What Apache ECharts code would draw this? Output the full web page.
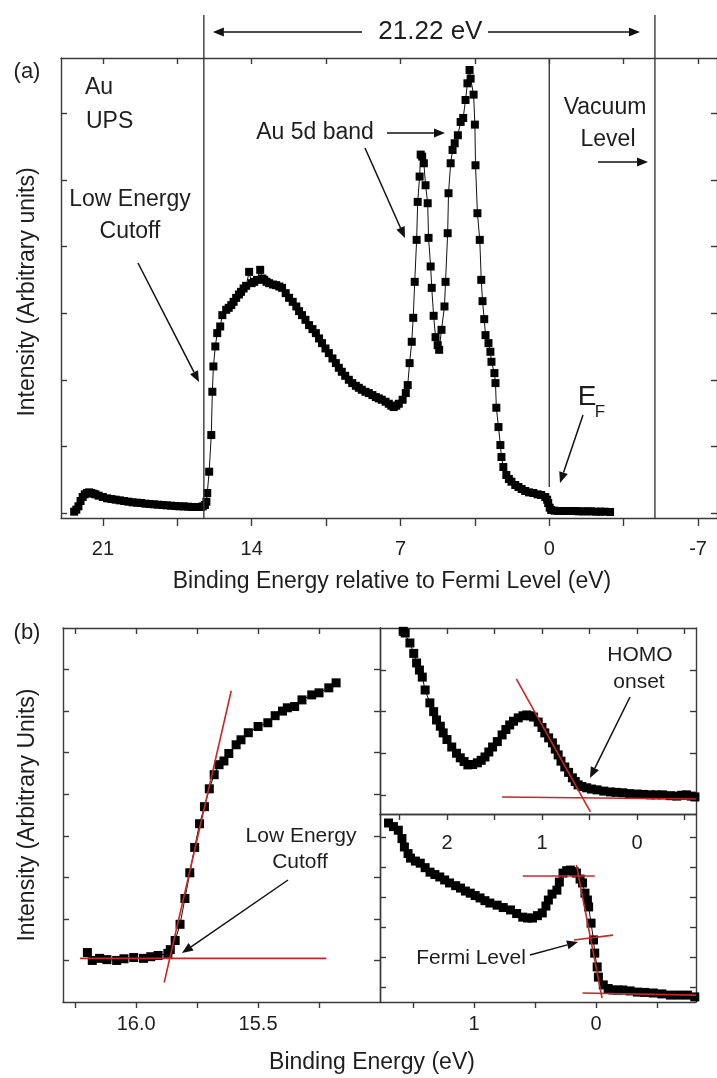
<!DOCTYPE html>
<html>
<head>
<meta charset="utf-8">
<script src="https://cdn.jsdelivr.net/npm/echarts@6/dist/echarts.min.js"></script>
<style>
  html, body { margin: 0; padding: 0; background: #fff; }
  #chart { width: 717px; height: 1078px; }
</style>
</head>
<body>
<div id="chart"></div>
<script>
// ---------- (a) Au UPS survey: [binding energy (eV), intensity (arb.)] ----------
const auSpectrum = [
  [22.35,0.02],[22.25,0.05],[22.15,0.1],[22.05,0.18],[21.95,0.24],[21.85,0.28],[21.75,0.30],[21.65,0.31],
  [21.55,0.30],[21.45,0.29],[21.35,0.28],[21.2,0.26],[21.0,0.24],[20.8,0.22],[20.6,0.21],[20.4,0.2],
  [20.2,0.19],[20.0,0.18],[19.8,0.17],[19.6,0.16],[19.4,0.155],[19.2,0.15],[19.0,0.14],[18.8,0.135],
  [18.6,0.13],[18.4,0.125],[18.2,0.12],[18.0,0.115],[17.8,0.11],[17.6,0.105],[17.4,0.1],[17.2,0.1],
  [17.0,0.095],[16.8,0.09],[16.6,0.09],[16.4,0.09],[16.3,0.1],[16.2,0.12],[16.13,0.17],[16.09,0.3],
  [16.0,0.62],[15.9,1.17],[15.85,1.82],[15.8,2.2],[15.71,2.5],[15.62,2.7],[15.48,2.8],[15.38,2.97],
  [15.2,3.05],[15.08,3.08],[14.96,3.12],[14.85,3.17],[14.73,3.23],[14.6,3.28],[14.5,3.32],[14.38,3.37],
  [14.26,3.41],[14.12,3.62],[14.0,3.45],[13.88,3.47],[13.75,3.5],[13.6,3.65],[13.5,3.52],[13.41,3.5],
  [13.3,3.47],[13.18,3.45],[13.0,3.43],[12.85,3.42],[12.7,3.4],[12.57,3.38],[12.4,3.3],[12.24,3.23],
  [12.07,3.17],[11.9,3.1],[11.77,3.03],[11.63,2.97],[11.47,2.9],[11.3,2.82],[11.14,2.76],[10.98,2.7],
  [10.83,2.62],[10.69,2.55],[10.53,2.47],[10.37,2.4],[10.2,2.32],[10.04,2.25],[9.9,2.18],[9.76,2.12],
  [9.6,2.06],[9.43,2.0],[9.27,1.95],[9.1,1.91],[8.96,1.88],[8.82,1.85],[8.65,1.82],[8.49,1.8],
  [8.32,1.77],[8.16,1.74],[8.02,1.72],[7.88,1.7],[7.7,1.67],[7.55,1.64],[7.43,1.61],[7.32,1.59],
  [7.2,1.61],[7.08,1.64],[6.9,1.7],[6.75,1.8],[6.66,1.92],[6.57,2.25],[6.47,2.57],[6.40,2.93],
  [6.33,3.47],[6.24,4.1],[6.19,4.67],[6.1,5.05],[6.05,5.38],[5.98,5.35],[5.9,5.25],[5.82,4.92],
  [5.72,4.65],[5.68,4.13],[5.58,3.7],[5.53,3.38],[5.44,2.96],[5.35,2.64],[5.25,2.52],[5.18,2.45],
  [5.07,2.75],[4.93,3.1],[4.88,3.47],[4.78,4.2],[4.74,4.8],[4.64,5.25],[4.55,5.45],[4.45,5.55],
  [4.3,5.67],[4.17,5.87],[4.05,5.93],[3.94,6.2],[3.85,6.45],[3.75,6.65],[3.7,6.52],[3.56,6.28],
  [3.5,5.83],[3.47,5.22],[3.38,4.5],[3.27,4.1],[3.2,3.5],[3.14,3.18],[3.06,2.91],[3.0,2.67],
  [2.86,2.55],[2.77,2.42],[2.72,2.27],[2.58,2.1],[2.53,1.95],[2.49,1.58],[2.39,1.29],[2.3,1.02],
  [2.25,0.84],[2.16,0.69],[2.02,0.57],[1.9,0.51],[1.78,0.47],[1.6,0.42],[1.45,0.39],[1.3,0.36],
  [1.13,0.33],[0.95,0.31],[0.75,0.3],[0.55,0.28],[0.38,0.27],[0.19,0.24],[0.1,0.2],[0.05,0.15],
  [-0.02,0.08],[-0.09,0.045],[-0.25,0.035],[-0.42,0.03],[-0.6,0.03],[-0.8,0.03],[-1.0,0.03],
  [-1.22,0.03],[-1.4,0.025],[-1.6,0.025],[-1.8,0.025],[-1.97,0.025],[-2.2,0.02],[-2.4,0.02],
  [-2.6,0.02],[-2.86,0.015]
];
const cutoffEnergy = 16.25;          // secondary-electron cutoff (eV)
const photonEnergy = 21.22;          // He I
const vacuumEnergy = cutoffEnergy - photonEnergy;
const fermiMarkerTop = 6.83, fermiMarkerBottom = 0.39;

const surveyTicks = [21, 17.5, 14, 10.5, 7, 3.5, 0, -3.5, -7];
const surveyLabels = [21, 14, 7, 0, -7];
const surveyYTicks = [0, 1, 2, 3, 4, 5, 6];

// ---------- (b) left: low energy cutoff region ----------
const cutoffScan = [
  [16.2,0.19],[16.18,0],[16.15,0.05],[16.12,0.02],[16.08,0],[16.05,0.04],[16.01,0.07],[15.97,0.05],
  [15.94,0.09],[15.91,0.12],[15.87,0.17],[15.86,0.26],[15.84,0.48],[15.82,0.87],[15.8,1.49],
  [15.78,2.11],[15.76,2.72],[15.74,3.29],[15.72,3.7],[15.70,4.13],[15.68,4.47],[15.66,4.71],
  [15.64,4.8],[15.62,4.98],[15.59,5.19],[15.57,5.31],[15.54,5.48],[15.5,5.63],[15.46,5.72],
  [15.43,5.89],[15.4,6.0],[15.38,6.08],[15.35,6.11],[15.32,6.27],[15.28,6.39],[15.25,6.44],
  [15.21,6.56],[15.18,6.68]
];
const cutoffBaseFit = [[16.23,0.05],[15.22,0.05]];
const cutoffEdgeFit = [[15.885,-0.53],[15.61,6.49]];
const cutoffTicks = [16.25, 16.0, 15.75, 15.5, 15.25];
const cutoffLabels = [16.0, 15.5];
const cutoffYTicks = [0, 1, 2, 3, 4, 5, 6, 7];

// ---------- (b) upper right: HOMO onset ----------
const homoScan = [
  [2.46,3.98],[2.44,3.94],[2.39,3.7],[2.35,3.45],[2.32,3.22],[2.29,3.05],[2.26,2.88],[2.23,2.57],
  [2.18,2.26],[2.14,2.05],[2.11,1.85],[2.07,1.7],[2.04,1.54],[2.0,1.38],[1.95,1.2],[1.9,1.05],
  [1.86,0.94],[1.82,0.85],[1.78,0.77],[1.73,0.78],[1.68,0.82],[1.64,0.88],[1.6,0.96],[1.56,1.08],
  [1.52,1.2],[1.47,1.33],[1.42,1.49],[1.38,1.62],[1.34,1.73],[1.3,1.82],[1.25,1.9],[1.2,1.95],
  [1.16,1.97],[1.12,1.95],[1.09,1.92],[1.04,1.8],[1.0,1.67],[0.97,1.54],[0.93,1.42],[0.89,1.3],
  [0.86,1.15],[0.83,1.01],[0.8,0.86],[0.76,0.72],[0.72,0.59],[0.68,0.46],[0.65,0.37],[0.62,0.29],
  [0.58,0.25],[0.53,0.22],[0.48,0.19],[0.42,0.17],[0.35,0.14],[0.28,0.12],[0.22,0.11],[0.15,0.1],
  [0.08,0.08],[0,0.07],[-0.07,0.06],[-0.14,0.05],[-0.2,0.05],[-0.27,0.05],[-0.35,0.03],
  [-0.42,0.02],[-0.47,0.04],[-0.52,0.05],[-0.57,0.02],[-0.61,0]
];
const homoBaseFit = [[1.42,0],[-0.62,-0.05]];
const homoEdgeFit = [[1.27,2.84],[0.49,-0.36]];
const homoTicks = [2.5, 2, 1.5, 1, 0.5, 0, -0.5];
const homoLabels = [2, 1, 0];
const homoYTicks = [0.05, 1.05, 2.05, 3.05];

// ---------- (b) lower right: Fermi edge ----------
const fermiScan = [
  [1.7,5.47],[1.66,5.35],[1.62,5.23],[1.59,4.95],[1.57,4.67],[1.54,4.45],[1.52,4.3],[1.48,4.2],
  [1.44,4.13],[1.4,3.98],[1.36,3.83],[1.32,3.75],[1.28,3.67],[1.24,3.57],[1.2,3.47],[1.15,3.38],
  [1.11,3.3],[1.07,3.2],[1.03,3.13],[0.99,3.05],[0.95,2.97],[0.91,2.88],[0.87,2.8],[0.81,2.73],
  [0.76,2.65],[0.7,2.57],[0.65,2.45],[0.6,2.33],[0.56,2.3],[0.52,2.3],[0.48,2.38],[0.44,2.47],
  [0.41,2.7],[0.39,2.9],[0.36,3.1],[0.32,3.23],[0.3,3.5],[0.27,3.8],[0.24,3.88],[0.21,3.9],
  [0.18,3.85],[0.16,3.8],[0.13,3.6],[0.11,3.47],[0.09,3.13],[0.07,2.9],[0.06,2.67],[0.04,2.13],
  [0.02,1.57],[0.01,1.13],[-0.01,0.67],[-0.02,0.33],[-0.06,0.07],[-0.1,-0.05],[-0.14,-0.1],
  [-0.18,-0.1],[-0.22,-0.1],[-0.28,-0.13],[-0.34,-0.17],[-0.4,-0.18],[-0.47,-0.2],[-0.54,-0.23],
  [-0.61,-0.27],[-0.68,-0.27],[-0.75,-0.27],[-0.81,-0.33]
];
const fermiTopFit = [[0.6,3.7],[0.01,3.7]];
const fermiEdgeFit = [[0.16,4.07],[-0.05,-0.37]];
const fermiMidFit = [[0.18,1.57],[-0.14,1.73]];
const fermiTailFit = [[0.11,-0.2],[-0.82,-0.27]];
const fermiTicks = [1.5, 1, 0.5, 0, -0.5];
const fermiLabels = [1, 0];
const fermiYTicks = [0, 1, 2, 3, 4, 5];

// ---------- styling ----------
const FONT = '"Liberation Sans", Arial, Helvetica, sans-serif';
const INK = '#1e1e1e';
const FRAME = '#3a3a3a';
const FIT = '#c62828';

const chart = echarts.init(document.getElementById('chart'), null, { renderer: 'canvas' });

function xAxis(grid, min, max, pos, ticks, tickInside, tickLen, labels, margin, fmt) {
  return {
    gridIndex: grid, type: 'value', min, max, inverse: true, position: pos,
    axisLine: { show: true, onZero: false, lineStyle: { color: FRAME, width: 1.4 } },
    axisTick: ticks ? { show: true, inside: tickInside, length: tickLen, customValues: ticks,
                        lineStyle: { color: FRAME, width: 1.4 } } : { show: false },
    axisLabel: labels ? { show: true, customValues: labels, margin, fontSize: 20, color: INK,
                          fontFamily: FONT, formatter: fmt || (v => String(v)) } : { show: false },
    splitLine: { show: false }
  };
}
function yAxis(grid, min, max, pos, ticks) {
  return {
    gridIndex: grid, type: 'value', min, max, position: pos,
    axisLine: { show: true, onZero: false, lineStyle: { color: FRAME, width: 1.4 } },
    axisTick: { show: true, inside: true, length: 6, customValues: ticks,
                lineStyle: { color: FRAME, width: 1.4 } },
    axisLabel: { show: false },
    splitLine: { show: false }
  };
}
function scatterLine(name, data, xi, yi, size) {
  return {
    name, type: 'line', data, xAxisIndex: xi, yAxisIndex: yi,
    symbol: 'rect', symbolSize: size, showAllSymbol: true,
    itemStyle: { color: '#000' }, lineStyle: { color: '#111', width: 1 },
    animation: false, z: 3
  };
}
function fitLine(name, data, xi, yi) {
  return {
    name, type: 'line', data, xAxisIndex: xi, yAxisIndex: yi, symbol: 'none',
    lineStyle: { color: FIT, width: 1.6 }, animation: false, z: 4
  };
}

chart.setOption({
  animation: false,
  backgroundColor: '#fff',
  grid: [
    { left: 61, top: 58, width: 658, height: 460 },
    { left: 63, top: 628, width: 317, height: 374 },
    { left: 380, top: 628, width: 316, height: 186 },
    { left: 380, top: 814, width: 316, height: 188 }
  ],
  xAxis: [
    xAxis(0, -7.89, 22.97, 'bottom', surveyTicks, false, 8, surveyLabels, 21),
    xAxis(0, -7.89, 22.97, 'top', surveyTicks, true, 6, null),
    xAxis(1, 15.0, 16.3, 'bottom', cutoffTicks, false, 6, cutoffLabels, 12, v => v.toFixed(1)),
    xAxis(1, 15.0, 16.3, 'top', cutoffTicks, true, 6, null),
    xAxis(2, -0.621, 2.705, 'bottom', homoTicks, false, 6, homoLabels, 19),
    xAxis(2, -0.621, 2.705, 'top', homoTicks, true, 6, null),
    xAxis(3, -0.82, 1.77, 'bottom', fermiTicks, false, 6, fermiLabels, 12),
    xAxis(3, -0.82, 1.77, 'top', null, true, 6, null)
  ],
  yAxis: [
    yAxis(0, -0.075, 6.83, 'left', surveyYTicks),
    yAxis(0, -0.075, 6.83, 'right', surveyYTicks),
    yAxis(1, -1, 8, 'left', cutoffYTicks),
    yAxis(1, -1, 8, 'right', cutoffYTicks),
    yAxis(2, -0.41, 4.06, 'left', homoYTicks),
    yAxis(2, -0.41, 4.06, 'right', homoYTicks),
    yAxis(3, -0.5, 5.77, 'left', fermiYTicks),
    yAxis(3, -0.5, 5.77, 'right', fermiYTicks)
  ],
  series: [
    scatterLine('Au UPS', auSpectrum, 0, 0, 8),
    {
      name: 'Fermi level', type: 'line', xAxisIndex: 0, yAxisIndex: 0, symbol: 'none',
      data: [[0, fermiMarkerTop], [0, fermiMarkerBottom]],
      lineStyle: { color: FRAME, width: 1.4 }, animation: false, z: 2
    },
    scatterLine('Cutoff scan', cutoffScan, 2, 2, 9),
    fitLine('Cutoff baseline', cutoffBaseFit, 2, 2),
    fitLine('Cutoff edge', cutoffEdgeFit, 2, 2),
    scatterLine('HOMO scan', homoScan, 4, 4, 9),
    fitLine('HOMO baseline', homoBaseFit, 4, 4),
    fitLine('HOMO edge', homoEdgeFit, 4, 4),
    scatterLine('Fermi scan', fermiScan, 6, 6, 9),
    fitLine('Fermi top', fermiTopFit, 6, 6),
    fitLine('Fermi edge', fermiEdgeFit, 6, 6),
    fitLine('Fermi mid', fermiMidFit, 6, 6),
    fitLine('Fermi tail', fermiTailFit, 6, 6)
  ]
});

// ---------- annotations ----------
function text(str, x, y, size, align, extra) {
  return Object.assign({
    type: 'text', x, y, z: 10,
    style: { text: str, fontSize: size, fontFamily: FONT, fill: INK,
             align: align || 'center', verticalAlign: 'middle' }
  }, extra || {});
}
function arrow(x1, y1, x2, y2) {
  const a = Math.atan2(y2 - y1, x2 - x1), L = 11, W = 4.5;
  const bx = x2 - L * Math.cos(a), by = y2 - L * Math.sin(a);
  const px = -Math.sin(a) * W, py = Math.cos(a) * W;
  return [
    { type: 'line', z: 10, shape: { x1, y1, x2: bx, y2: by }, style: { stroke: '#111', lineWidth: 1.5 } },
    { type: 'polygon', z: 10, shape: { points: [[x2, y2], [bx + px, by + py], [bx - px, by - py]] },
      style: { fill: '#111' } }
  ];
}
function vline(x, y1, y2) {
  return { type: 'line', z: 5, shape: { x1: x, y1, x2: x, y2 }, style: { stroke: FRAME, lineWidth: 1.4 } };
}

const xCut = chart.convertToPixel({ xAxisIndex: 0 }, cutoffEnergy);
const xVac = chart.convertToPixel({ xAxisIndex: 0 }, vacuumEnergy);
const yBase = chart.convertToPixel({ yAxisIndex: 0 }, -0.075);
const yArrow = 32;

const g = [
  vline(xCut, 15, yBase),
  vline(xVac, 15, yBase),
  text(photonEnergy.toFixed(2) + ' eV', (xCut + xVac) / 2 + 1, yArrow, 26),
  ...arrow(362, yArrow, xCut + 9, yArrow),
  ...arrow(488, yArrow, xVac - 15, yArrow),

  text('(a)', 27, 72, 22),
  text('Au', 85, 88, 23, 'left'),
  text('UPS', 86, 122, 23, 'left'),
  text('Low Energy', 130, 200, 23),
  text('Cutoff', 130, 232, 23),
  ...arrow(138, 263, 199, 382),
  text('Au 5d band', 315, 133, 23),
  ...arrow(387, 133, 445, 133),
  ...arrow(365, 148, 405, 238),
  text('Vacuum', 605, 108, 23),
  text('Level', 608, 140, 23),
  ...arrow(598, 162, 648, 162),
  text('E', 587, 397, 28),
  text('F', 600, 412, 17),
  ...arrow(583, 415, 560, 483),
  text('Intensity (Arbitrary units)', 28, 292, 23, 'center', { rotation: Math.PI / 2 }),
  text('Binding Energy relative to Fermi Level (eV)', 392, 582, 23),

  text('(b)', 27, 633, 22),
  text('Intensity (Arbitrary Units)', 28, 815, 23, 'center', { rotation: Math.PI / 2 }),
  text('Low Energy', 301, 836, 21),
  text('Cutoff', 300, 862, 21),
  ...arrow(288, 880, 182, 953),
  text('HOMO', 640, 655, 21),
  text('onset', 639, 682, 21),
  ...arrow(630, 697, 590, 778),
  text('Fermi Level', 471, 958, 21),
  ...arrow(530, 955, 578, 942),
  text('Binding Energy (eV)', 372, 1063, 23)
];

chart.setOption({ graphic: g });
</script>
</body>
</html>
